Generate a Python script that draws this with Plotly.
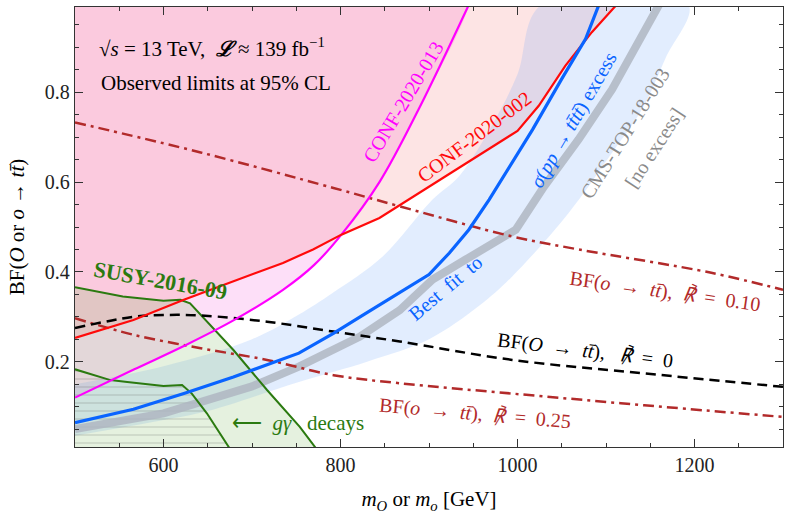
import plotly.graph_objects as go

# ---------------- data ----------------
mag_x = [500, 567, 623, 679, 735, 770, 801, 844, 889, 945]
mag_y = [0.12, 0.183, 0.235, 0.292, 0.36, 0.415, 0.483, 0.60, 0.765, 0.995]

red_x = [500, 566, 623, 679, 735, 769, 801, 844, 919, 1000, 1024, 1054, 1084, 1112]
red_y = [0.253, 0.293, 0.338, 0.379, 0.42, 0.45, 0.483, 0.52, 0.613, 0.714, 0.77, 0.859, 0.934, 0.995]

blue_x = [500, 566, 623, 679, 753, 792, 829, 867, 900, 923, 945, 968, 994, 1017, 1050, 1077, 1092]
blue_y = [0.064, 0.094, 0.129, 0.166, 0.219, 0.263, 0.308, 0.353, 0.394, 0.442, 0.494, 0.561, 0.645, 0.717, 0.83, 0.919, 0.995]

gray_x = [500, 600, 650, 700, 753, 822, 867, 904, 941, 978, 998, 1030, 1069, 1107, 1144, 1160]
gray_y = [0.05, 0.085, 0.115, 0.145, 0.189, 0.256, 0.315, 0.383, 0.427, 0.472, 0.494, 0.59, 0.695, 0.807, 0.934, 0.995]

band_up_x = [500, 600, 700, 753, 791, 848, 904, 934, 975, 1000, 1027]
band_up_y = [0.15, 0.19, 0.25, 0.305, 0.353, 0.435, 0.561, 0.613, 0.74, 0.84, 0.995]
band_lo_x = [500, 600, 650, 753, 830, 900, 957, 994, 1058, 1107, 1140, 1167, 1193]
band_lo_y = [0.035, 0.07, 0.09, 0.155, 0.2, 0.25, 0.325, 0.39, 0.532, 0.666, 0.76, 0.875, 0.995]

susy_up_x = [500, 554, 600, 619, 630, 642, 679, 717, 754, 775]
susy_up_y = [0.366, 0.345, 0.336, 0.338, 0.330, 0.304, 0.226, 0.137, 0.055, 0.0]
susy_lo_x = [500, 540, 559, 600, 621, 632, 649, 677]
susy_lo_y = [0.183, 0.159, 0.155, 0.146, 0.148, 0.129, 0.085, 0.0]

bf0_x = [500, 566, 600, 642, 717, 792, 867, 994, 1143, 1300]
bf0_y = [0.275, 0.30, 0.304, 0.303, 0.289, 0.267, 0.245, 0.204, 0.174, 0.144]

bf10_x = [500, 642, 792, 867, 994, 1069, 1219, 1300]
bf10_y = [0.733, 0.666, 0.587, 0.546, 0.479, 0.45, 0.398, 0.36]

bf25_x = [500, 566, 642, 717, 792, 867, 994, 1143, 1300]
bf25_y = [0.297, 0.26, 0.23, 0.204, 0.17, 0.152, 0.129, 0.103, 0.077]

x_ticks = [600, 800, 1000, 1200]
y_ticks = [0.2, 0.4, 0.6, 0.8]
X_RANGE = [500, 1300]
Y_RANGE = [0.01, 0.99]
TOP = 1.05
BOTTOM = 0.0

FONT = "Liberation Serif"
C_MAG = "#ff00ff"
C_RED = "#ff0a0a"
C_BLUE = "#0a64ff"
C_GREEN = "#2b7a10"
C_BROWN = "#b22a2a"
C_GRAY = "#8a8a8a"

fig = go.Figure()

# ---------- fills ----------
fig.add_trace(go.Scatter(x=mag_x + [mag_x[-1], mag_x[0]], y=mag_y + [TOP, TOP],
                         fill="toself", fillcolor="rgba(247,110,222,0.22)", line_shape="spline",
                         line=dict(width=0), mode="lines", hoverinfo="skip"))
fig.add_trace(go.Scatter(x=red_x + [red_x[-1], red_x[0]], y=red_y + [TOP, TOP],
                         fill="toself", fillcolor="rgba(245,120,120,0.2)",
                         line=dict(width=0), mode="lines", hoverinfo="skip"))
fig.add_trace(go.Scatter(x=band_up_x + band_lo_x[::-1], y=band_up_y + band_lo_y[::-1],
                         fill="toself", fillcolor="rgba(110,165,250,0.2)", line_shape="spline",
                         line=dict(width=0), mode="lines", hoverinfo="skip"))
fig.add_trace(go.Scatter(x=susy_up_x + [susy_up_x[0]], y=susy_up_y + [BOTTOM],
                         fill="toself", fillcolor="rgba(125,185,95,0.2)",
                         line=dict(width=0), mode="lines", hoverinfo="skip"))
fig.add_trace(go.Scatter(x=susy_lo_x + [susy_lo_x[0]], y=susy_lo_y + [BOTTOM],
                         fill="toself", fillcolor="rgba(0,0,0,0)",
                         fillpattern=dict(shape="-", size=8, solidity=0.12,
                                          fgcolor="rgba(70,70,70,0.55)", bgcolor="rgba(0,0,0,0)"),
                         line=dict(width=0), mode="lines", hoverinfo="skip"))

# ---------- lines ----------
fig.add_trace(go.Scatter(x=gray_x, y=gray_y, mode="lines",
                         line=dict(color="rgba(175,182,194,0.85)", width=8), hoverinfo="skip"))
fig.add_trace(go.Scatter(x=susy_up_x, y=susy_up_y, mode="lines",
                         line=dict(color=C_GREEN, width=2), hoverinfo="skip"))
fig.add_trace(go.Scatter(x=susy_lo_x, y=susy_lo_y, mode="lines",
                         line=dict(color=C_GREEN, width=2), hoverinfo="skip"))
fig.add_trace(go.Scatter(x=bf10_x, y=bf10_y, mode="lines", line_shape="spline",
                         line=dict(color=C_BROWN, width=2.5, dash="11px,5px,3px,5px"), hoverinfo="skip"))
fig.add_trace(go.Scatter(x=bf25_x, y=bf25_y, mode="lines", line_shape="spline",
                         line=dict(color=C_BROWN, width=2.5, dash="11px,5px,3px,5px"), hoverinfo="skip"))
fig.add_trace(go.Scatter(x=bf0_x, y=bf0_y, mode="lines", line_shape="spline",
                         line=dict(color="black", width=2.5, dash="10px,6px"), hoverinfo="skip"))
fig.add_trace(go.Scatter(x=mag_x, y=mag_y, mode="lines", line_shape="spline",
                         line=dict(color=C_MAG, width=2.2), hoverinfo="skip"))
fig.add_trace(go.Scatter(x=red_x, y=red_y, mode="lines",
                         line=dict(color=C_RED, width=2.2), hoverinfo="skip"))
fig.add_trace(go.Scatter(x=blue_x, y=blue_y, mode="lines",
                         line=dict(color=C_BLUE, width=3.2), hoverinfo="skip"))

# ---------- annotations ----------
W0, W1, H0, H1 = 75, 783, 7, 447
def px(xp, yp):
    return (xp - W0) / (W1 - W0), (H1 - yp) / (H1 - H0)

def label(text, xp, yp, color, size=20, angle=0, anchor="center"):
    x, y = px(xp, yp)
    fig.add_annotation(text=text, x=x, y=y, xref="paper", yref="paper",
                       showarrow=False, textangle=angle,
                       font=dict(family=FONT, size=size, color=color),
                       xanchor=anchor, yanchor="middle")

tbar = "t\u0304"
Rslash = "<i>\u211F</i>"

label("\u221A<i>s</i> = 13 TeV,  <b><i>\u2112</i></b> \u2248 139 fb<sup>\u22121</sup>", 97, 48, "black", 21, 0, "left")
label("Observed limits at 95% CL", 99, 83, "black", 21, 0, "left")

label("CONF-2020-013", 403, 102, C_MAG, 20, -59)
label("CONF-2020-002", 474, 137, C_RED, 20, -37)
label("<i>\u03C3</i>(<i>pp</i> \u2192 <i>t" + tbar + "t" + tbar + "</i>) excess", 573, 120, C_BLUE, 20, -60)
label("Best  fit  to", 445, 288, C_BLUE, 20, -40)
label("CMS-TOP-18-003", 625, 133, C_GRAY, 20, -58)
label("[no excess]", 654, 148, C_GRAY, 20, -57)
label("<b>SUSY-2016-09</b>", 160, 280, C_GREEN, 22, 10)
label("\u27F5  <i>g\u03B3</i>   decays", 298, 423, C_GREEN, 21, 0)
label("BF(<i>o</i>  \u2192  <i>t" + tbar + "</i>),  " + Rslash + "  =  0.10", 665, 291, C_BROWN, 20, 8)
label("BF(<i>O</i>  \u2192  <i>t" + tbar + "</i>),   " + Rslash + "  =  0", 585, 350, "black", 20, 7)
label("BF(<i>o</i>  \u2192  <i>t" + tbar + "</i>),  " + Rslash + "  =  0.25", 475, 413, C_BROWN, 20, 5)

axis_common = dict(showgrid=False, zeroline=False, showline=True, linecolor="#333333",
                   linewidth=1.3, mirror="ticks", ticks="inside", ticklen=8, tickwidth=1.2,
                   tickcolor="#333333", automargin=False,
                   tickfont=dict(family=FONT, size=20, color="#222222"))

fig.update_xaxes(range=X_RANGE, tickvals=x_ticks, ticktext=[str(v) for v in x_ticks],
                 minor=dict(ticks="inside", ticklen=4, dtick=50, tickcolor="#333333", tickwidth=1),
                 title=dict(text="<i>m<sub>O</sub></i> or <i>m<sub>o</sub></i> [GeV]",
                            font=dict(family=FONT, size=21, color="black"), standoff=16),
                 **axis_common)
fig.update_yaxes(range=Y_RANGE, tickvals=y_ticks, ticktext=[f"{v:.1f}" for v in y_ticks],
                 minor=dict(ticks="inside", ticklen=4, dtick=0.05, tickcolor="#333333", tickwidth=1),
                 title=dict(text="BF(<i>O</i> or <i>o</i> \u2192 <i>t" + tbar + "</i>)",
                            font=dict(family=FONT, size=21, color="black"), standoff=14),
                 **axis_common)

fig.update_layout(width=785, height=518, margin=dict(l=75, r=2, t=7, b=71),
                  plot_bgcolor="white", paper_bgcolor="white", showlegend=False)

fig.write_html("out.html", config={"displayModeBar": False},
               post_script="document.body.style.margin='0';document.body.style.overflow='hidden';")
